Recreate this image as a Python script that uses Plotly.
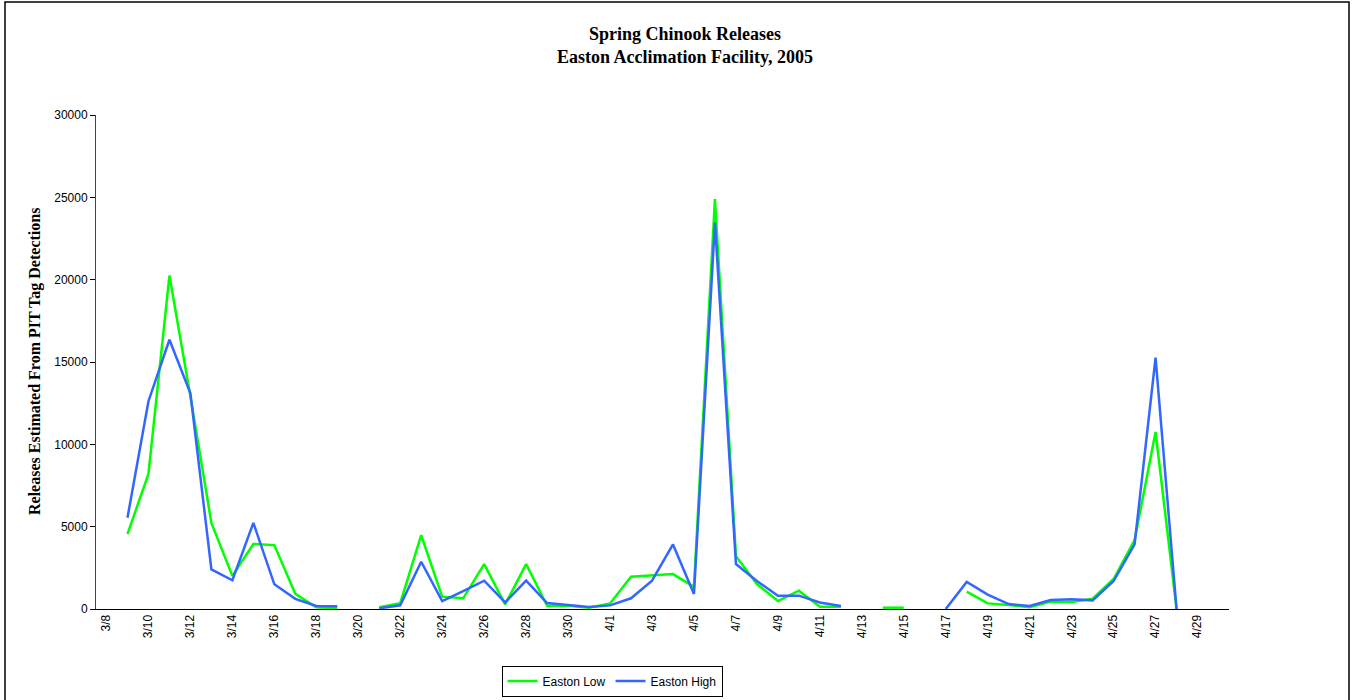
import plotly.graph_objects as go

dates = ["3/8", "3/9", "3/10", "3/11", "3/12", "3/13", "3/14", "3/15", "3/16", "3/17",
         "3/18", "3/19", "3/20", "3/21", "3/22", "3/23", "3/24", "3/25", "3/26", "3/27",
         "3/28", "3/29", "3/30", "3/31", "4/1", "4/2", "4/3", "4/4", "4/5", "4/6",
         "4/7", "4/8", "4/9", "4/10", "4/11", "4/12", "4/13", "4/14", "4/15", "4/16",
         "4/17", "4/18", "4/19", "4/20", "4/21", "4/22", "4/23", "4/24", "4/25", "4/26",
         "4/27", "4/28", "4/29", "4/30"]

easton_low = [None, 4550, 8200, 20250, 12900, 5230, 2010, 3950, 3880, 920,
              100, 40, None, 100, 350, 4480, 750, 650, 2730, 280,
              2730, 200, 200, 80, 340, 1960, 2040, 2120, 1350, 24900,
              3210, 1515, 485, 1110, 140, 140, None, 80, 80, None,
              None, 1050, 340, 240, 100, 460, 420, 625, 1820, 4180,
              10750, 0, None, None]

easton_high = [None, 5540, 12620, 16350, 13100, 2400, 1745, 5230, 1500, 615,
               185, 165, None, 40, 225, 2870, 485, 1090, 1720, 400,
               1720, 360, 240, 120, 220, 650, 1720, 3920, 910, 23470,
               2730, 1700, 810, 810, 400, 180, None, None, None, None,
               0, 1640, 870, 300, 180, 545, 585, 525, 1700, 3920,
               15270, 0, None, None]

tick_labels = dates[::2]
y_ticks = [0, 5000, 10000, 15000, 20000, 25000, 30000]
y_tick_text = ["0", "5000", "10000", "15000", "20000", "25000", "30000"]

# layout geometry (pixels)
W, H = 1354, 708
L, R, T, B = 96, 125, 115, 99
AXIS_Y = H - B            # pixel row of the x axis
pw, ph = W - L - R, H - T - B

def px_x(x):
    return (x - L) / pw

def px_y(y):
    return (AXIS_Y - y) / ph

fig = go.Figure()
fig.add_trace(go.Scatter(x=dates, y=easton_low, mode="lines", name="Easton Low",
                         line=dict(color="#00FF00", width=2.5), connectgaps=False))
fig.add_trace(go.Scatter(x=dates, y=easton_high, mode="lines", name="Easton High",
                         line=dict(color="#3366FF", width=2.5), connectgaps=False))

fig.update_layout(
    width=W, height=H, autosize=False,
    margin=dict(l=L, r=R, t=T, b=B),
    paper_bgcolor="white", plot_bgcolor="white",
    showlegend=True,
    legend=dict(orientation="h", x=px_x(612), y=px_y(681), xanchor="center", yanchor="middle",
                bordercolor="black", borderwidth=1, bgcolor="white",
                font=dict(family="Liberation Sans, Arial", size=12, color="black"),
                itemwidth=30, tracegroupgap=0),
    xaxis=dict(type="category", categoryorder="array", categoryarray=dates,
               range=[-0.5, len(dates) - 0.5],
               tickmode="array", tickvals=tick_labels, ticktext=tick_labels,
               tickangle=-90, ticks="", showgrid=False, zeroline=False,
               showline=True, linecolor="black", linewidth=1,
               tickfont=dict(family="Liberation Sans, Arial", size=12, color="black")),
    yaxis=dict(range=[0, 30000], tickmode="array", tickvals=y_ticks, ticktext=y_tick_text,
               ticks="outside", ticklen=5, tickcolor="black",
               showgrid=False, zeroline=False, showline=True, linecolor="#444444", linewidth=1,
               tickfont=dict(family="Liberation Sans, Arial", size=12, color="black")),
    annotations=[
        dict(text="<b>Spring Chinook Releases</b><br><b>Easton Acclimation Facility, 2005</b>",
             xref="paper", yref="paper", x=px_x(685), y=px_y(46), xanchor="center", yanchor="middle",
             showarrow=False, font=dict(family="Liberation Serif, Times New Roman", size=18, color="black")),
        dict(text="<b>Releases Estimated From PIT Tag Detections</b>", textangle=-90,
             xref="paper", yref="paper", x=px_x(35), y=px_y(362), xanchor="center", yanchor="middle",
             showarrow=False, font=dict(family="Liberation Serif, Times New Roman", size=16, color="black")),
    ],
    shapes=[dict(type="rect", xref="paper", yref="paper",
                 x0=px_x(5), x1=px_x(1349), y0=px_y(707), y1=px_y(2),
                 line=dict(color="black", width=1.5), fillcolor="rgba(0,0,0,0)", layer="below")],
)

fig.write_html("out.html",
               config={"responsive": False, "displayModeBar": False},
               post_script="document.body.style.margin='0';document.body.style.overflow='hidden';")
